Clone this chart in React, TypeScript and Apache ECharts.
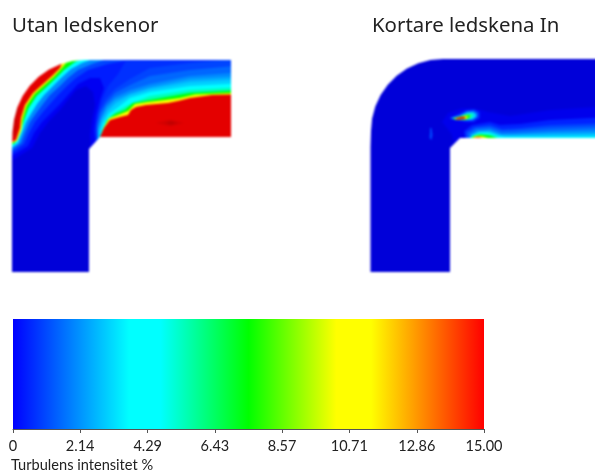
import React, { useEffect, useRef } from "react";
import * as echarts from "echarts";

type Pt = [number, number];

const TITLES = ["Utan ledskenor", "Kortare ledskena In"];
const BAR_NAME = "Turbulens intensitet %";
const BAR_TICKS = [0, 2.14, 4.29, 6.43, 8.57, 10.71, 12.86, 15];
const BAR_STOP_VALUES = [0, 3.7, 4.7, 7.5, 10.3, 11.4, 15];
const BAR_STOP_COLORS = ["#0000ff", "#00ffff", "#00ffff", "#00ff00", "#ffff00", "#ffff00", "#ff0000"];

// The plots saturate past the top of the scale and go darker than blue in the core
const FIELD_VALUES = [-1, 0, 3.7, 4.7, 7.5, 10.3, 11.4, 15, 16, 18];
const FIELD_COLORS = ["#0000c0", "#0000ff", "#00ffff", "#00ffff", "#00ff00", "#ffff00", "#ffff00", "#ff0000", "#e40000", "#b00000"];

// Left plot: iso-contours of turbulence intensity, picture units
const LEFT_LEVELS = [-0.6, -0.2, 0.4, 0.7, 1, 1, 1.5, 2, 2, 2.5, 3, 3.7, 3.7, 5.5, 7.5, 7.5, 10.5, 11.5, 16, 16, 16.6, 17.5, 16.8];
const LEFT_CONTOURS: Pt[][] = [
  [[0, 0], [700, 0], [700, 300], [0, 300]],
  [[5, 165], [32, 148], [40, 133], [50, 120], [60, 110], [68, 100], [76, 90], [86, 86], [93, 92], [95, 105], [92, 120], [90, 135], [91, 150], [245, 150], [245, 50], [5, 50]],
  [[5, 160], [28, 146], [34, 133], [42, 122], [52, 112], [60, 104], [68, 95], [78, 84], [90, 78], [100, 78], [104, 88], [100, 100], [96, 115], [94, 130], [95, 141], [98, 150], [245, 150], [245, 50], [5, 50]],
  [[245, 50], [135, 50], [125, 62], [118, 74], [108, 86], [102, 100], [98, 114], [96, 128], [96, 140], [98, 150], [245, 150]],
  [[5, 158], [24, 144], [29, 133], [35, 122], [43, 112], [50, 104], [58, 95], [67, 86], [76, 78], [88, 70], [108, 64], [140, 58], [150, 50], [5, 50]],
  [[245, 58], [190, 63], [150, 68], [130, 79], [115, 89], [106, 99], [100, 110], [97, 122], [96, 132], [97, 140], [98, 150], [245, 150]],
  [[245, 65], [190, 70], [150, 76], [130, 85], [115, 93], [106, 103], [100, 113], [97, 125], [97, 139], [98, 150], [245, 150]],
  [[5, 155], [21, 143], [25, 133], [30, 122], [37, 112], [43, 104], [50, 95], [60, 86], [68, 78], [78, 70], [92, 64], [110, 58], [120, 50], [5, 50]],
  [[245, 72], [190, 76], [150, 84], [130, 90], [115, 97], [106, 106], [101, 117], [98, 128], [98, 139], [99, 150], [245, 150]],
  [[245, 76], [190, 79], [150, 87], [130, 93], [115, 100], [107, 108], [101, 119], [98, 130], [98, 139], [99, 150], [245, 150]],
  [[245, 79], [190, 82], [150, 89], [130, 95], [116, 103], [108, 111], [102, 121], [99, 131], [99, 138], [100, 150], [245, 150]],
  [[5, 152], [18, 143], [22, 133], [26, 122], [32, 112], [37, 104], [44, 95], [53, 86], [61, 78], [71, 69], [82, 63], [96, 58], [100, 50], [5, 50]],
  [[245, 83], [190, 86], [150, 92], [130, 98], [117, 108], [109, 114], [103, 124], [100, 134], [100, 150], [245, 150]],
  [[245, 87], [190, 90], [150, 96], [130, 104], [117, 111], [109, 117], [104, 127], [100, 137], [100, 150], [245, 150]],
  [[245, 90], [190, 93], [150, 100], [133, 103], [125, 110], [115, 114], [107, 120], [102, 132], [100, 150], [245, 150]],
  [[5, 148], [15, 143], [20, 133], [24, 120], [28.5, 108], [36.5, 96], [46.5, 87], [55, 79], [64, 70], [74, 62.5], [84, 58], [86, 50], [5, 50]],
  [[245, 92.5], [195, 94.5], [180, 98], [165, 100], [148, 102], [135, 104], [128, 111], [118, 115], [109, 118.5], [103, 129], [100, 150], [245, 150]],
  [[5, 146], [17, 141], [21.5, 130], [22.5, 119], [26.5, 106], [34.5, 94], [44.5, 85], [53.5, 77], [62, 68], [70, 58], [74, 50], [5, 50]],
  [[245, 94.5], [231, 94.5], [212, 95], [190, 98], [178, 101], [168, 103], [146, 105], [136, 107], [131, 110], [128, 115], [120, 117], [110, 120], [104, 128], [100, 137], [100, 150], [245, 150]],
  [[5, 145], [16, 140], [20, 128], [21, 118], [25, 105], [33, 93], [43, 84], [52, 76], [60, 68], [64, 58], [64, 50], [5, 50]],
  [[156, 123], [170, 119.5], [184, 123], [170, 126.5]],
  [[165, 123], [171, 121.5], [177, 123], [171, 124.5]],
  [[5, 135], [15, 136], [17.5, 127], [17.5, 117], [20, 108], [5, 104]],
];

// Right plot: iso-contours of turbulence intensity, picture units
const RIGHT_LEVELS = [-0.6, -0.3, 0.5, 1, 1.5, 2, 2.5, 3, 3.7, 5, 7.5, 10, 14, 0.5, 1.5, 3, 5.5, 8, 11, 16, 1];
const RIGHT_CONTOURS: Pt[][] = [
  [[300, 0], [700, 0], [700, 300], [300, 300]],
  [[610, 106], [550, 110], [510, 116], [488, 112], [478, 109], [462, 108], [448, 113], [442, 122], [447, 128], [452, 135], [456, 150], [610, 150]],
  [[610, 117], [550, 120], [520, 124], [500, 125], [490, 122], [472, 125], [464, 131], [465, 138], [465, 150], [610, 150]],
  [[610, 123], [550, 125], [520, 128], [502, 129], [490, 125], [474, 127], [466, 132], [466, 150], [610, 150]],
  [[610, 126], [550, 128], [515, 130.5], [502, 131], [490, 127], [476, 128], [468, 133], [467, 150], [610, 150]],
  [[610, 129], [550, 131], [515, 133], [502, 133.5], [490, 129], [477, 130], [470, 134], [469, 150], [610, 150]],
  [[610, 132], [550, 133], [515, 134.5], [501, 134.5], [490, 130.5], [478, 131], [471, 135], [470, 150], [610, 150]],
  [[610, 134], [550, 135], [510, 135.5], [500, 135.5], [489, 131.5], [479, 132], [472, 135.5], [471, 150], [610, 150]],
  [[610, 136.5], [540, 137], [505, 137], [497, 135.5], [488, 132.5], [480, 132.5], [473, 136], [472, 150], [610, 150]],
  [[500, 138], [498, 136], [490, 133], [478, 133], [472, 135.5], [470, 138], [470, 150], [500, 150]],
  [[497, 138], [490, 135.5], [480, 134.5], [474, 136], [471, 138], [471, 150], [497, 150]],
  [[488, 138], [482, 136], [476, 136], [472, 138], [472, 150], [488, 150]],
  [[483, 138], [478, 136.8], [473, 138], [473, 150], [483, 150]],
  [[449, 118], [458, 114], [466, 110], [474, 109], [480, 112], [480, 118], [474, 122], [466, 122], [456, 120]],
  [[450, 118], [460, 115], [467, 111], [474, 110.5], [478, 113], [478, 117], [473, 120.5], [466, 120.5], [456, 119.5]],
  [[451, 118.5], [460, 116], [467, 112.5], [473, 112], [476, 114], [476, 117], [472, 119.5], [466, 120], [456, 119.5]],
  [[452, 118.5], [460, 116.5], [467, 114], [472, 113.5], [473.5, 115.5], [472, 118], [466, 119.7], [456, 119.5]],
  [[453, 118.5], [460, 116.5], [466, 115], [470, 115], [470, 117.5], [466, 119.5], [456, 119.5]],
  [[454, 118.5], [460, 117], [466, 116], [467.5, 117], [466, 119], [457, 119.5]],
  [[455, 118.5], [461, 117], [465, 116.8], [465.5, 118.5], [458, 119.5]],
  [[430, 128], [431.5, 128], [432.5, 135], [431.5, 140], [429.5, 138], [430, 132]],
];

// Plot outlines: what lies outside the duct
const LEFT_OUTSIDE: Pt[][] = [
  [[0, 290], [12, 290], [12, 147], [12.5, 132], [14.1, 119.5], [17.3, 107.4], [22.6, 96], [29.8, 85.7], [38.7, 76.8], [49, 69.6], [60.4, 64.3], [72.5, 61.1], [85, 60], [90, 50], [0, 50]],
  [[100, 137], [245, 137], [245, 290], [89, 290], [89, 149]],
];
const RIGHT_OUTSIDE: Pt[][] = [
  [[350, 290], [370.5, 290], [370.5, 147], [371, 131], [372.1, 118.5], [375.3, 106.4], [380.6, 95], [387.8, 84.7], [396.7, 75.8], [407, 68.6], [418.4, 63.3], [430.5, 60.1], [443, 59], [450, 50], [350, 50]],
  [[460, 138], [620, 138], [620, 290], [450, 290], [450, 148]],
];

const FONT = "Lato";
const TITLE_FONT = "Noto Sans";

function parseHex(c: string) {
  return [1, 3, 5].map((i) => parseInt(c.slice(i, i + 2), 16));
}
function fieldColor(v: number) {
  let i = 0;
  while (i < FIELD_VALUES.length - 2 && v > FIELD_VALUES[i + 1]) i++;
  const t = Math.min(1, Math.max(0, (v - FIELD_VALUES[i]) / (FIELD_VALUES[i + 1] - FIELD_VALUES[i])));
  const a = parseHex(FIELD_COLORS[i]);
  const b = parseHex(FIELD_COLORS[i + 1]);
  const m = a.map((x, k) => Math.round(x + (b[k] - x) * t));
  return `rgb(${m[0]},${m[1]},${m[2]})`;
}

function contourSeries(grid: number, levels: number[], contours: Pt[][], outside: Pt[][]) {
  const base = { type: "custom" as const, xAxisIndex: grid, yAxisIndex: grid, clip: true, silent: true };
  return [
    {
      ...base,
      z: 2,
      data: levels.map((v, i) => [i, v]),
      renderItem: (_p: any, api: any) => ({
        type: "polygon",
        shape: { points: contours[api.value(0)].map((p) => api.coord(p)) },
        style: { fill: fieldColor(api.value(1)) },
      }),
    },
    {
      ...base,
      z: 3,
      data: outside.map((_, i) => [i, i]),
      renderItem: (_p: any, api: any) => ({
        type: "polygon",
        shape: { points: outside[api.value(0)].map((p) => api.coord(p)) },
        style: { fill: "#ffffff" },
      }),
    },
  ];
}

export default function App() {
  const plotRef = useRef<HTMLDivElement>(null);
  const textRef = useRef<HTMLDivElement>(null);
  useEffect(() => {
    const hidden = { show: false };
    const hiddenAxis = { axisLine: hidden, axisTick: hidden, axisLabel: hidden, splitLine: hidden };

    const plots = echarts.init(plotRef.current!, undefined, { renderer: "svg" });
    plots.setOption({
      animation: false,
      backgroundColor: "#ffffff",
      grid: [
        { left: 12, top: 60, width: 219, height: 212 },
        { left: 370, top: 59, width: 240, height: 213 },
      ],
      xAxis: [
        { type: "value", gridIndex: 0, min: 12, max: 231, ...hiddenAxis },
        { type: "value", gridIndex: 1, min: 370, max: 610, ...hiddenAxis },
      ],
      yAxis: [
        { type: "value", gridIndex: 0, min: 60, max: 272, inverse: true, ...hiddenAxis },
        { type: "value", gridIndex: 1, min: 59, max: 272, inverse: true, ...hiddenAxis },
      ],
      series: [
        ...contourSeries(0, LEFT_LEVELS, LEFT_CONTOURS, LEFT_OUTSIDE),
        ...contourSeries(1, RIGHT_LEVELS, RIGHT_CONTOURS, RIGHT_OUTSIDE),
      ],
    });

    const titleStyle = { fontFamily: TITLE_FONT, fontSize: 20.4, fontWeight: "normal", color: "#222222" };
    const chart = echarts.init(textRef.current!, undefined, { renderer: "svg" });
    chart.setOption({
      animation: false,
      title: [
        { text: TITLES[0], left: 12, top: 14, padding: 0, textStyle: titleStyle },
        { text: TITLES[1], left: 372, top: 14, padding: 0, textStyle: titleStyle },
        { text: BAR_NAME, left: 11, top: 457, padding: 0, textStyle: { fontFamily: FONT, fontSize: 14.6, fontWeight: "normal", color: "#222222" } },
      ],
      grid: { left: 13, top: 319, width: 471, height: 110 },
      xAxis: {
        type: "value",
        min: 0,
        max: 15,
        axisLine: { show: true, lineStyle: { color: "#555555", width: 1 } },
        axisTick: { show: true, customValues: BAR_TICKS, length: 4, lineStyle: { color: "#555555" } },
        axisLabel: {
          show: true,
          customValues: BAR_TICKS,
          margin: 9,
          fontFamily: FONT,
          fontSize: 14.5,
          color: "#222222",
          formatter: (v: number) => (v === 0 ? "0" : v.toFixed(2)),
        },
        splitLine: hidden,
      },
      yAxis: { type: "value", min: 0, max: 1, ...hiddenAxis },
      series: [
        {
          type: "custom",
          silent: true,
          data: [[BAR_STOP_VALUES[0], BAR_STOP_VALUES[BAR_STOP_VALUES.length - 1]]],
          renderItem: (_p: any, api: any) => {
            const a = api.coord([api.value(0), 1]);
            const b = api.coord([api.value(1), 0]);
            const max = BAR_STOP_VALUES[BAR_STOP_VALUES.length - 1];
            return {
              type: "rect",
              shape: { x: a[0], y: a[1], width: b[0] - a[0], height: b[1] - a[1] },
              style: {
                fill: new echarts.graphic.LinearGradient(
                  0, 0, 1, 0,
                  BAR_STOP_VALUES.map((v, i) => ({ offset: v / max, color: BAR_STOP_COLORS[i] }))
                ),
              },
            };
          },
        },
      ],
    });
    return () => {
      plots.dispose();
      chart.dispose();
    };
  }, []);
  return (
    <>
      <div ref={plotRef} style={{ position: "fixed", left: 0, top: 0, width: 620, height: 300, filter: "blur(1.2px)" }} />
      <div ref={textRef} style={{ position: "fixed", left: 0, top: 0, width: 595, height: 472 }} />
    </>
  );
}
